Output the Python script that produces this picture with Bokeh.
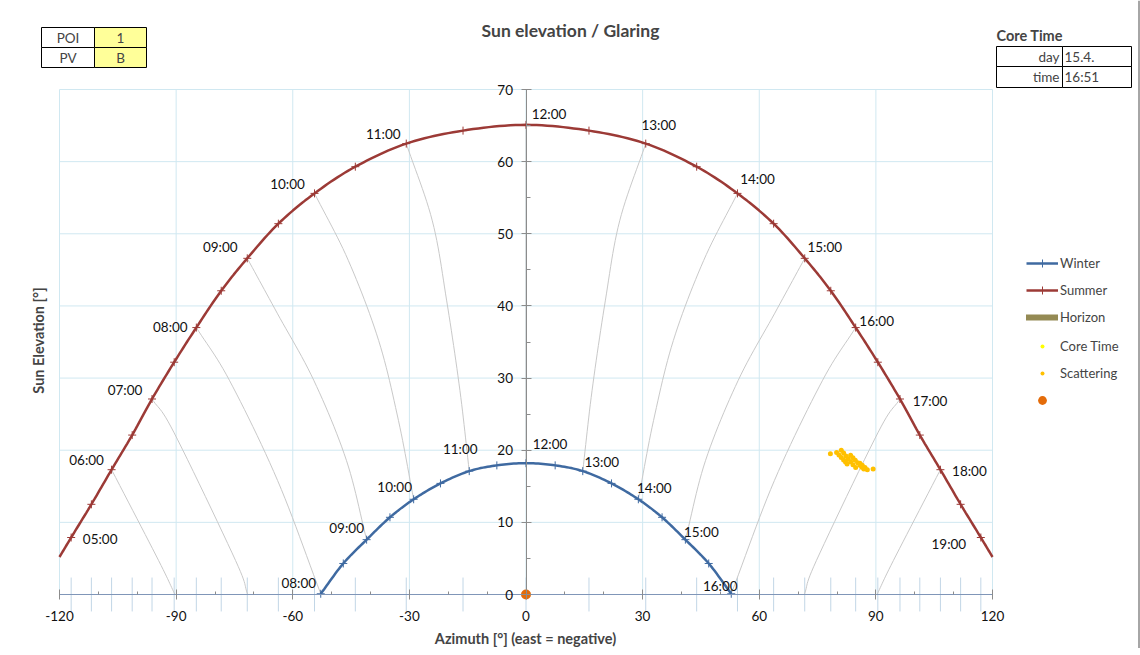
import numpy as np
from bokeh.plotting import figure
from bokeh.models import (Legend, LegendItem, Label, BoxAnnotation, FixedTicker, Range1d,
                          ColumnDataSource, Span)
from bokeh.core.properties import value
from bokeh.embed import file_html
from bokeh.resources import INLINE

FONT = "Lato"

# ---------------- data ----------------
summer_time = ["05:00", "05:30", "06:00", "06:30", "07:00", "07:30", "08:00", "08:30",
               "09:00", "09:30", "10:00", "10:30", "11:00", "11:30", "12:00", "12:30", "13:00",
               "13:30", "14:00", "14:30", "15:00", "15:30", "16:00", "16:30", "17:00", "17:30",
               "18:00", "18:30", "19:00"]
summer_az = [-117.0, -111.8, -106.6, -101.3, -96.2, -90.5, -84.8, -78.4, -71.7, -63.7,
             -54.4, -43.9, -30.8, -16.2, 0.0, 16.2, 30.8, 43.9, 54.4, 63.7, 71.7, 78.4, 84.8,
             90.5, 96.2, 101.3, 106.6, 111.8, 117.0]
summer_el = [7.9, 12.5, 17.3, 22.1, 27.1, 32.2, 37.0, 42.1, 46.6, 51.4, 55.6, 59.3, 62.5,
             64.3, 65.1, 64.3, 62.5, 59.3, 55.6, 51.4, 46.6, 42.1, 37.0, 32.2, 27.1, 22.1, 17.3,
             12.5, 7.9]
# where the summer curve leaves the plot area
summer_edge_az = [-120.0, 120.0]
summer_edge_el = [5.2, 5.2]

winter_time = ["08:00", "08:30", "09:00", "09:30", "10:00", "10:30", "11:00", "11:30", "12:00",
               "12:30", "13:00", "13:30", "14:00", "14:30", "15:00", "15:30", "16:00"]
winter_az = [-52.8, -47.0, -41.0, -35.0, -28.9, -22.0, -14.6, -7.5, 0.0, 7.5, 14.6, 22.0, 28.9,
             35.0, 41.0, 47.0, 52.8]
winter_el = [0.1, 4.3, 7.6, 10.7, 13.2, 15.4, 17.1, 17.9, 18.2, 17.9, 17.1, 15.4, 13.2, 10.7,
             7.6, 4.3, 0.1]

# hour lines (same clock time from summer to winter solstice)
hour_line_az = [
    [-106.6, -94.5, -90.3],
    [-96.2, -90.6, -74.7, -71.6],
    [-84.8, -76.3, -63.9, -52.8],
    [-71.7, -64.0, -54.6, -46.2, -41.0],
    [-54.4, -45.7, -37.9, -32.8, -28.9],
    [-30.8, -24.1, -20.4, -17.0, -14.6],
    [0.0, 0.0],
    [30.8, 24.1, 20.4, 17.0, 14.6],
    [54.4, 45.7, 37.9, 32.8, 28.9],
    [71.7, 64.0, 54.6, 46.2, 41.0],
    [84.8, 76.3, 63.9, 52.8],
    [96.2, 90.6, 74.7, 71.6],
    [106.6, 94.5, 90.3],
]
hour_line_el = [
    [17.3, 4.7, 0.0],
    [27.1, 22.5, 4.7, 0.0],
    [37.0, 29.7, 15.8, 0.1],
    [46.6, 39.0, 29.7, 18.6, 7.6],
    [55.6, 46.3, 35.2, 24.1, 13.2],
    [62.5, 51.8, 40.7, 28.3, 17.1],
    [65.1, 18.2],
    [62.5, 51.8, 40.7, 28.3, 17.1],
    [55.6, 46.3, 35.2, 24.1, 13.2],
    [46.6, 39.0, 29.7, 18.6, 7.6],
    [37.0, 29.7, 15.8, 0.1],
    [27.1, 22.5, 4.7, 0.0],
    [17.3, 4.7, 0.0],
]

scatter_az = [78.3,
              79.9, 80.5, 81.1, 81.7, 82.2, 82.6,
              81.1, 81.7, 82.3, 82.9, 83.5, 84.1, 84.8,
              83.5, 84.1, 84.7, 85.3, 85.9, 86.4, 86.9,
              85.9, 86.5, 87.2, 87.8,
              89.3]
scatter_el = [19.5,
              19.7, 19.35, 19.0, 18.65, 18.35, 18.1,
              20.0, 19.6, 19.2, 18.8, 18.4, 18.0, 17.6,
              19.3, 18.95, 18.6, 18.25, 17.9, 17.65, 17.4,
              18.2, 17.9, 17.6, 17.3,
              17.4]
core_az = [84.5]
core_el = [18.6]
poi_az = [0.0]
poi_el = [0.0]
horizon_az = [float("nan")]
horizon_el = [float("nan")]

x_ticks = [-120, -90, -60, -30, 0, 30, 60, 90, 120]
x_minor = [-110, -100, -80, -70, -50, -40, -20, -10, 10, 20, 40, 50, 70, 80, 100, 110]
y_ticks = [0, 10, 20, 30, 40, 50, 60, 70]
y_minor = [5, 15, 25, 35, 45, 55, 65]

poi_rows = [["POI", "1"], ["PV", "B"]]
core_rows = [["day", "15.4."], ["time", "16:51"]]

# ---------------- styles ----------------
C_SUMMER = "#9c3a36"
C_WINTER = "#3f6aa1"
C_GRAY = "#c9c9c9"
C_GRID = "#d0e8f1"
summer_lbl_off = {"05:00": (29, 1), "06:00": (-25, -10), "07:00": (-27, -9), "08:00": (-26, -1),
                  "09:00": (-27, -11), "10:00": (-27, -9), "11:00": (-23, -10), "12:00": (23, -11),
                  "13:00": (13, -19), "14:00": (20, -14), "15:00": (20, -11), "16:00": (21, -7),
                  "17:00": (30, 2), "18:00": (29, 1), "19:00": (-32, 6)}
winter_lbl_off = {"08:00": (-22, -11), "09:00": (-20, -12), "10:00": (-19, -12), "11:00": (-9, -22),
                  "12:00": (24, -19), "13:00": (19, -9), "14:00": (16, -11), "15:00": (16, -8),
                  "16:00": (-11, -8)}


def smooth(xs, ys, n=12):
    P = np.column_stack([xs, ys]).astype(float)
    if len(P) < 3:
        return list(P[:, 0]), list(P[:, 1])
    P = np.vstack([2 * P[0] - P[1], P, 2 * P[-1] - P[-2]])
    out = []
    for i in range(1, len(P) - 2):
        p0, p1, p2, p3 = P[i - 1], P[i], P[i + 1], P[i + 2]
        for t in np.linspace(0, 1, n, endpoint=False):
            t2, t3 = t * t, t * t * t
            out.append(0.5 * (2 * p1 + (-p0 + p2) * t + (2 * p0 - 5 * p1 + 4 * p2 - p3) * t2
                              + (-p0 + 3 * p1 - 3 * p2 + p3) * t3))
    out.append(P[-2])
    out = np.array(out)
    return list(out[:, 0]), list(out[:, 1])


# canvas px -> data coords (the plot frame covers the whole canvas)
W, H = 1140, 648
X0, XS = 525.5, 933 / 240.0
Y0, YS = 594.0, 505 / 70.0


def ax(px):
    return (px - X0) / XS


def ay(py):
    return (Y0 - py) / YS


p = figure(frame_width=W, frame_height=H, x_range=Range1d(ax(0), ax(W)), y_range=Range1d(ay(H), ay(0)),
           output_backend="svg", toolbar_location=None, min_border=0)
p.outline_line_color = None
p.background_fill_color = "white"
p.xgrid.visible = False
p.ygrid.visible = False

# chart-area border (right edge)
p.add_layout(Span(location=ax(1138.5), dimension="height", line_color="#a6a6a6", line_width=2))

# grid (plot area only)
p.segment(x0=x_ticks, y0=[y_ticks[0]] * len(x_ticks), x1=x_ticks, y1=[y_ticks[-1]] * len(x_ticks),
          line_color=C_GRID, line_width=1)
p.segment(x0=[x_ticks[0]] * len(y_ticks), y0=y_ticks, x1=[x_ticks[-1]] * len(y_ticks), y1=y_ticks,
          line_color=C_GRID, line_width=1)

# short marks at summer azimuths around the horizon
p.segment(x0=summer_az, y0=[-2.35] * len(summer_az), x1=summer_az, y1=[2.35] * len(summer_az),
          line_color="#c2d6e6", line_width=1)

# hour lines
for hx, hy in zip(hour_line_az, hour_line_el):
    sx, sy = smooth(hx, hy)
    p.line(sx, sy, line_color=C_GRAY, line_width=1)

# horizon (no visible data, legend only)
r_hor = p.line(horizon_az, horizon_el, line_color="#948a54", line_width=6, line_cap="round")

# winter
wx, wy = smooth(winter_az, winter_el)
r_wl = p.line(wx, wy, line_color=C_WINTER, line_width=2.5)
r_wm = p.scatter(winter_az, winter_el, marker="cross", size=8, line_color=C_WINTER, line_width=1)
# summer
sxs, sys_ = smooth(summer_edge_az[:1] + summer_az + summer_edge_az[1:],
                   summer_edge_el[:1] + summer_el + summer_edge_el[1:])
r_sl = p.line(sxs, sys_, line_color=C_SUMMER, line_width=2.5)
r_sm = p.scatter(summer_az, summer_el, marker="cross", size=8, line_color=C_SUMMER, line_width=1)


def add_labels(times, azs, els, offs):
    tx, ty, tt, ox, oy = [], [], [], [], []
    for t, a, e in zip(times, azs, els):
        if t in offs:
            tx.append(a); ty.append(e); tt.append(t)
            ox.append(offs[t][0]); oy.append(offs[t][1])
    src = ColumnDataSource(dict(x=tx, y=ty, t=tt, ox=ox, oy=oy))
    p.text(x="x", y="y", text="t", x_offset="ox", y_offset="oy", source=src,
           text_font=value(FONT), text_font_size="13.5px", text_align="center",
           text_baseline="middle", text_color="#111111")


add_labels(summer_time, summer_az, summer_el, summer_lbl_off)
add_labels(winter_time, winter_az, winter_el, winter_lbl_off)

# points
r_core = p.scatter(core_az, core_el, size=4, fill_color="#ffff00", line_color=None)
r_sc = p.scatter(scatter_az, scatter_el, size=5, fill_color="#ffc000", line_color=None)
r_poi = p.scatter(poi_az, poi_el, size=10, fill_color="#e46c0a", line_color=None)

# axes
xa = p.xaxis[0]
xa.fixed_location = 0
xa.bounds = (x_ticks[0], x_ticks[-1])
xa.ticker = FixedTicker(ticks=x_ticks, minor_ticks=x_minor)
xa.major_label_overrides = {t: str(t) for t in x_ticks}
xa.axis_line_color = "#8096b8"
xa.major_tick_line_color = "#8c8c8c"
xa.major_tick_in = 5
xa.major_tick_out = 5
xa.minor_tick_line_color = "#8c8c8c"
xa.minor_tick_in = 3
xa.minor_tick_out = 0
xa.major_label_standoff = 11
xa.major_label_text_font = FONT
xa.major_label_text_font_size = "13.5px"
xa.major_label_text_color = "#111111"

ya = p.yaxis[0]
ya.fixed_location = 0
ya.bounds = (y_ticks[0], y_ticks[-1])
ya.ticker = FixedTicker(ticks=y_ticks, minor_ticks=y_minor)
ya.axis_line_color = "#8c8c8c"
ya.major_tick_line_color = "#8c8c8c"
ya.major_tick_in = 5
ya.major_tick_out = 5
ya.minor_tick_line_color = "#8c8c8c"
ya.minor_tick_in = 4
ya.minor_tick_out = 0
ya.major_label_standoff = 8
ya.major_label_text_font = FONT
ya.major_label_text_font_size = "13.5px"
ya.major_label_text_color = "#111111"


# legends (three blocks so the marker sizes can differ)
def make_legend(items, gh, spacing, loc):
    lg = Legend(items=items, location=loc)
    lg.border_line_color = None
    lg.background_fill_alpha = 0
    lg.label_text_font = FONT
    lg.label_text_font_size = "13px"
    lg.glyph_width = 32
    lg.glyph_height = gh
    lg.label_height = gh
    lg.spacing = spacing
    lg.label_standoff = 2
    lg.padding = 0
    lg.margin = 0
    p.add_layout(lg, "center")


make_legend([LegendItem(label="Winter", renderers=[r_wl, r_wm]),
             LegendItem(label="Summer", renderers=[r_sl, r_sm]),
             LegendItem(label="Horizon", renderers=[r_hor])], 20, 7, (1026, 321))
make_legend([LegendItem(label="Core Time", renderers=[r_core]),
             LegendItem(label="Scattering", renderers=[r_sc])], 10, 11, (1026, 267))
make_legend([LegendItem(label=" ", renderers=[r_poi])], 22, 0, (1026, 237))

# titles / axis titles
p.add_layout(Label(x=ax(570), y=ay(30), text="Sun elevation / Glaring", text_font=FONT,
                   text_font_size="17.5px", text_font_style="bold", text_align="center",
                   text_baseline="middle"))
p.add_layout(Label(x=ax(525), y=ay(638), text="Azimuth [°] (east = negative)", text_font=FONT,
                   text_font_size="14.5px", text_font_style="bold", text_align="center",
                   text_baseline="middle"))
p.add_layout(Label(x=ax(38), y=ay(340), text="Sun Elevation [°]", text_font=FONT,
                   text_font_size="14.5px", text_font_style="bold", text_align="center",
                   text_baseline="middle", angle=np.pi / 2))


def cell(l, r, t, b, fill):
    p.add_layout(BoxAnnotation(left=ax(l), right=ax(r), top=ay(t), bottom=ay(b), fill_color=fill,
                               fill_alpha=1, line_color="black", line_width=1, line_alpha=1))


def txt(x, y, s, align, bold=False, size="13.5px"):
    p.add_layout(Label(x=ax(x), y=ay(y), text=s, text_font=FONT, text_font_size=size,
                       text_align=align, text_baseline="middle",
                       text_font_style="bold" if bold else "normal"))


row_t = [27, 47]
for i, (k, v) in enumerate(poi_rows):
    t = row_t[i]
    cell(41, 94, t, t + 20, "white")
    cell(94, 146, t, t + 20, "#ffff99")
    txt(67.5, t + 10, k, "center")
    txt(120, t + 10, v, "center")

txt(996, 35, "Core Time", "left", bold=True, size="14.5px")
row_t2 = [46, 66]
for i, (k, v) in enumerate(core_rows):
    t = row_t2[i]
    cell(996, 1062, t, t + 21, "white")
    cell(1062, 1131, t, t + 21, "white")
    txt(1059, t + 10.5, k, "right")
    txt(1064, t + 10.5, v, "left")

open("out.html", "w").write(file_html(p, INLINE))
